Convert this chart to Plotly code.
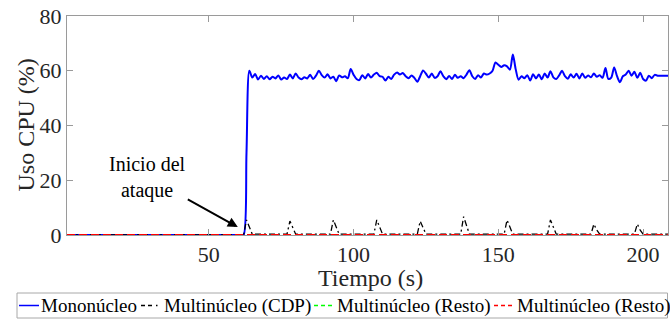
import plotly.graph_objects as go

# ---- data ----
t = list(range(1, 211))

mono_after = [60.0, 57.5, 58.8, 56.8, 58.2, 57.0, 58.0, 56.9, 57.8, 57.2,
              58.3, 56.8, 57.5, 57.0, 58.6, 57.2, 59.0, 57.5, 56.9, 57.6,
              57.2, 58.5, 57.0, 58.2, 60.0, 58.4, 57.5, 58.7, 57.2, 57.8,
              56.2, 58.3, 57.6, 58.0, 57.3, 60.6, 58.5, 57.0, 56.6, 58.4,
              57.2, 58.8, 57.5, 58.6, 59.3, 58.0, 57.8, 56.4, 57.8, 57.0,
              58.6, 59.4, 58.6, 59.2, 58.0, 57.3, 58.3, 57.4, 56.0, 58.0,
              60.1, 58.9, 57.5, 59.0, 57.4, 58.0, 59.8, 58.0, 56.9, 58.1,
              57.0, 58.5, 57.4, 58.0, 57.3, 58.6, 60.2, 58.0, 57.0, 58.4,
              57.5, 59.0, 58.6, 59.0, 60.0, 63.0, 62.2, 61.4, 62.0, 61.6,
              60.4, 65.9, 60.5, 56.7, 58.0, 57.3, 58.4, 56.4, 58.7, 57.2,
              58.6, 56.9, 59.0, 57.5, 59.8, 57.6, 57.0, 58.3, 60.0, 58.0,
              57.1, 58.7, 57.5, 58.9, 57.2, 59.0, 57.4, 58.3, 57.6, 59.0,
              57.8, 58.4, 57.4, 61.0, 57.0, 57.5, 61.2, 58.0, 55.8, 58.0,
              58.6, 60.0, 58.2, 59.6, 57.4, 59.3, 57.0, 56.4, 58.2, 57.3,
              58.5, 58.2, 58.2, 58.2, 58.2, 58.2, 58.2]
mono = [0.0] * 62 + [30.0] + mono_after  # t=1..62 idle, 63 rising, 64.. loaded

spike_times = [63, 78, 93, 108, 123, 138, 153, 168, 183, 198]
spike_peaks = [5.5, 5.1, 5.5, 5.5, 5.1, 6.7, 5.5, 5.5, 4.0, 4.0]
spike_second = [3.0, 2.5, 2.8, 2.6, 2.5, 3.2, 2.8, 2.7, 1.8, 1.8]
cdp = [0.0] * 62 + [0.3] * 148
for st, pk, sc in zip(spike_times, spike_peaks, spike_second):
    i = st - 1
    cdp[i] = pk
    cdp[i + 1] = sc
resto1 = [0.0] * 210
resto2 = [0.0] * 210

x_ticks = [50, 100, 150, 200]
y_ticks = [0, 20, 40, 60, 80]

names = ["Mononúcleo", "Multinúcleo (CDP)", "Multinúcleo (Resto)", "Multinúcleo (Resto)"]
colors = ["#0000ff", "#000000", "#00ff00", "#ff0000"]

FONT = "Liberation Serif"

fig = go.Figure()
fig.add_trace(go.Scatter(x=t, y=mono, mode="lines", name=names[0],
                         line=dict(color=colors[0], width=2, shape="spline", smoothing=0.8)))
fig.add_trace(go.Scatter(x=t, y=cdp, mode="lines", name=names[1],
                         line=dict(color=colors[1], width=1.3, dash="6px,3px,2px,3px")))
fig.add_trace(go.Scatter(x=t, y=resto1, mode="lines", name=names[2],
                         line=dict(color=colors[2], width=2, dash="8px,4px")))
fig.add_trace(go.Scatter(x=t, y=resto2, mode="lines", name=names[3],
                         line=dict(color=colors[3], width=2, dash="8px,4px")))

fig.add_annotation(x=60.0, y=2.9, xref="x", yref="y", ax=-90, ay=-50,
                   text="Inicio del<br>ataque", showarrow=True,
                   arrowhead=2, arrowsize=1, arrowwidth=2, arrowcolor="#000000",
                   font=dict(family=FONT, size=20, color="#000000"))

# ---- layout geometry (pixels) ----
W, H = 670, 322
L, R, T, B = 67, 2, 16, 87
pw, ph = W - L - R, H - T - B


def px2paper_x(px):
    return (px - L) / pw


def px2paper_y(py):
    return (H - B - py) / ph


# axis titles
fig.add_annotation(x=px2paper_x(25), y=0.5, xref="paper", yref="paper",
                   text="Uso CPU (%)", textangle=-90, showarrow=False,
                   xanchor="center", yanchor="middle",
                   font=dict(family=FONT, size=24, color="#262626"))
fig.add_annotation(x=px2paper_x(370), y=px2paper_y(278), xref="paper", yref="paper",
                   text="Tiempo (s)", showarrow=False,
                   xanchor="center", yanchor="middle",
                   font=dict(family=FONT, size=24, color="#262626"))

# legend box (drawn manually to match the compact original legend)
fig.add_shape(type="rect", xref="paper", yref="paper",
              x0=px2paper_x(17), x1=px2paper_x(667.5), y0=px2paper_y(318), y1=px2paper_y(293),
              line=dict(color="#a8a8a8", width=1), fillcolor="white", layer="above")
leg_y = px2paper_y(305.5)
sample_x = [(19, 39), (141, 162), (314, 335), (494, 515)]
text_x = [40, 163, 336, 516]
sample_dash = ["solid", "4px,3px,4px,4px,1.5px,20px", "4px,3px", "4px,3px"]
for (sx0, sx1), tx, nm, col, dsh in zip(sample_x, text_x, names, colors, sample_dash):
    fig.add_shape(type="line", xref="paper", yref="paper",
                  x0=px2paper_x(sx0), x1=px2paper_x(sx1), y0=leg_y, y1=leg_y,
                  line=dict(color=col, width=1.5, dash=dsh), layer="above")
    fig.add_annotation(x=px2paper_x(tx), y=leg_y, xref="paper", yref="paper",
                       text=nm, showarrow=False, xanchor="left", yanchor="middle",
                       borderpad=0,
                       font=dict(family=FONT, size=19, color="#000000"))

axis_common = dict(showline=True, linecolor="#9a9a9a", linewidth=1, mirror="ticks",
                   ticks="inside", ticklen=6, tickcolor="#9a9a9a",
                   showgrid=False, zeroline=False, automargin=False,
                   tickfont=dict(family=FONT, size=22, color="#262626"))

fig.update_xaxes(range=[1, 208.6], tickvals=x_ticks, **axis_common)
fig.update_yaxes(range=[0, 80], tickvals=y_ticks, **axis_common)

fig.update_layout(
    width=W, height=H,
    margin=dict(l=L, r=R, t=T, b=B, autoexpand=False),
    paper_bgcolor="white", plot_bgcolor="white",
    font=dict(family=FONT, color="#262626"),
    showlegend=False,
)

fig.write_html("out.html", config={"displayModeBar": False},
               post_script="document.body.style.margin='0';document.body.style.overflow='hidden';")
